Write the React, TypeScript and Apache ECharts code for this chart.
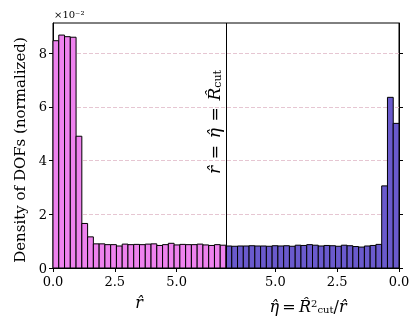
import React, { useEffect, useRef } from "react";
import * as echarts from "echarts";

const R_CUT = 7;
const N_BINS = 30;
// density (x 10^-2) per r-hat bin, r-hat from 0 to R_cut
const rHatDensity = [
  8.47, 8.68, 8.62, 8.6, 4.91, 1.66, 1.16, 0.9, 0.9, 0.87,
  0.87, 0.82, 0.89, 0.87, 0.88, 0.87, 0.89, 0.9, 0.84, 0.87,
  0.92, 0.86, 0.88, 0.87, 0.87, 0.89, 0.86, 0.84, 0.87, 0.85,
];
// density (x 10^-2) per eta-hat bin, listed from eta-hat = R_cut (left) down to 0 (right)
const etaHatDensity = [
  0.82, 0.81, 0.82, 0.82, 0.83, 0.82, 0.82, 0.81, 0.83, 0.82,
  0.83, 0.81, 0.85, 0.84, 0.87, 0.85, 0.82, 0.84, 0.83, 0.81,
  0.85, 0.83, 0.8, 0.78, 0.82, 0.84, 0.88, 3.06, 6.36, 5.39,
];
const yTickValues = [0, 2, 4, 6, 8];
const xTickValues = [0, 2.5, 5];
const Y_MAX = 9.13;

const FONT = "DejaVu Serif";
const RCOLOR = "#EE82EE";
const ECOLOR = "#6A5ACD";

export default function App() {
  const ref = useRef<HTMLDivElement>(null);
  useEffect(() => {
    if (!ref.current) return;
    const chart = echarts.init(ref.current, null, { renderer: "svg" });
    const w = R_CUT / N_BINS;
    const data: any[] = [];
    rHatDensity.forEach((v, i) => data.push([i * w, (i + 1) * w, v, 0]));
    etaHatDensity.forEach((v, i) =>
      data.push([R_CUT + i * w, R_CUT + (i + 1) * w, v, 1])
    );
    const xLabelStyle = {
      fontFamily: FONT,
      fontSize: 13,
      color: "#000",
      margin: 7,
      formatter: (v: number) => v.toFixed(1),
      customValues: xTickValues,
    };
    const xTick = {
      show: true,
      length: 4,
      lineStyle: { color: "#000" },
      customValues: xTickValues,
    };
    chart.setOption({
      animation: false,
      grid: {
        left: 53,
        right: 16,
        top: 23,
        bottom: 64,
        show: true,
        borderColor: "#000",
        borderWidth: 1,
      },
      xAxis: [
        {
          type: "value",
          min: 0,
          max: 2 * R_CUT,
          interval: 2.5,
          position: "bottom",
          axisLine: { show: true, lineStyle: { color: "#000" } },
          axisTick: xTick,
          axisLabel: xLabelStyle,
          splitLine: { show: false },
        },
        {
          type: "value",
          min: 0,
          max: 2 * R_CUT,
          interval: 2.5,
          inverse: true,
          position: "bottom",
          axisLine: { show: false },
          axisTick: xTick,
          axisLabel: xLabelStyle,
          splitLine: { show: false },
        },
      ],
      yAxis: [
        {
          type: "value",
          min: 0,
          max: Y_MAX,
          interval: 2,
          axisLine: { show: true, lineStyle: { color: "#000" } },
          axisTick: { show: true, length: 4, lineStyle: { color: "#000" }, customValues: yTickValues },
          axisLabel: {
            fontFamily: FONT,
            fontSize: 13,
            color: "#000",
            margin: 6,
            customValues: yTickValues,
          },
          splitLine: {
            show: true,
            lineStyle: { color: "#e6c6d2", type: [4, 2], width: 1 },
          },
        },
        {
          type: "value",
          min: 0,
          max: Y_MAX,
          interval: 2,
          position: "right",
          axisLine: { show: true, lineStyle: { color: "#000" } },
          axisTick: { show: true, length: 4, lineStyle: { color: "#000" }, customValues: yTickValues },
          axisLabel: { show: false },
          splitLine: { show: false },
        },
      ],
      series: [
        {
          type: "custom",
          xAxisIndex: 0,
          yAxisIndex: 0,
          data,
          encode: { x: [0, 1], y: 2 },
          renderItem: (params: any, api: any) => {
            const x0 = api.value(0);
            const x1 = api.value(1);
            const h = api.value(2);
            const side = api.value(3);
            const p0 = api.coord([x0, h]);
            const p1 = api.coord([x1, 0]);
            return {
              type: "rect",
              shape: {
                x: p0[0],
                y: p0[1],
                width: p1[0] - p0[0],
                height: p1[1] - p0[1],
              },
              style: {
                fill: side === 0 ? RCOLOR : ECOLOR,
                stroke: "#000",
                lineWidth: 1,
              },
            };
          },
          markLine: {
            silent: true,
            symbol: ["none", "none"],
            label: { show: false },
            lineStyle: { color: "#000", type: "solid", width: 1 },
            data: [{ xAxis: R_CUT }],
          },
        },
      ],
      graphic: [
        {
          type: "text",
          left: 54,
          top: 9,
          style: {
            text: "×10⁻²",
            fontFamily: FONT,
            fontSize: 10,
            fill: "#000",
          },
        },
        {
          type: "text",
          x: 20,
          y: 150,
          rotation: Math.PI / 2,
          style: {
            text: "Density of DOFs (normalized)",
            fontFamily: FONT,
            fontSize: 15,
            fill: "#000",
            align: "center",
            verticalAlign: "middle",
          },
        },
        {
          type: "text",
          x: 139,
          y: 302,
          style: {
            text: "r\u0302",
            fontFamily: FONT,
            fontStyle: "italic",
            fontSize: 16,
            fill: "#000",
            align: "center",
            verticalAlign: "middle",
          },
        },
        {
          type: "text",
          x: 308,
          y: 306,
          style: {
            text: "{m|η\u0302} {n|=} {m|R\u0302}{sup|2}{sub|cut}{n|/}{m|r\u0302}",
            align: "center",
            verticalAlign: "middle",
            rich: {
              m: { fontFamily: FONT, fontStyle: "italic", fontSize: 16, fill: "#000" },
              n: { fontFamily: FONT, fontSize: 16, fill: "#000" },
              sup: { fontFamily: FONT, fontSize: 10, fill: "#000", verticalAlign: "top" },
              sub: { fontFamily: FONT, fontSize: 10, fill: "#000", verticalAlign: "bottom" },
            },
          },
        },
        {
          type: "text",
          x: 214,
          y: 122,
          rotation: Math.PI / 2,
          style: {
            text: "{m|r\u0302}  {n|=}  {m|η\u0302}  {n|=}  {m|R\u0302}{sub|cut}",
            align: "center",
            verticalAlign: "middle",
            rich: {
              m: { fontFamily: FONT, fontStyle: "italic", fontSize: 17, fill: "#000" },
              n: { fontFamily: FONT, fontSize: 17, fill: "#000" },
              sub: { fontFamily: FONT, fontSize: 11, fill: "#000", verticalAlign: "bottom" },
            },
          },
        },
      ],
    });
    return () => chart.dispose();
  }, []);
  return (
    <div
      ref={ref}
      style={{ position: "fixed", left: 0, top: 0, width: 415, height: 332 }}
    />
  );
}
